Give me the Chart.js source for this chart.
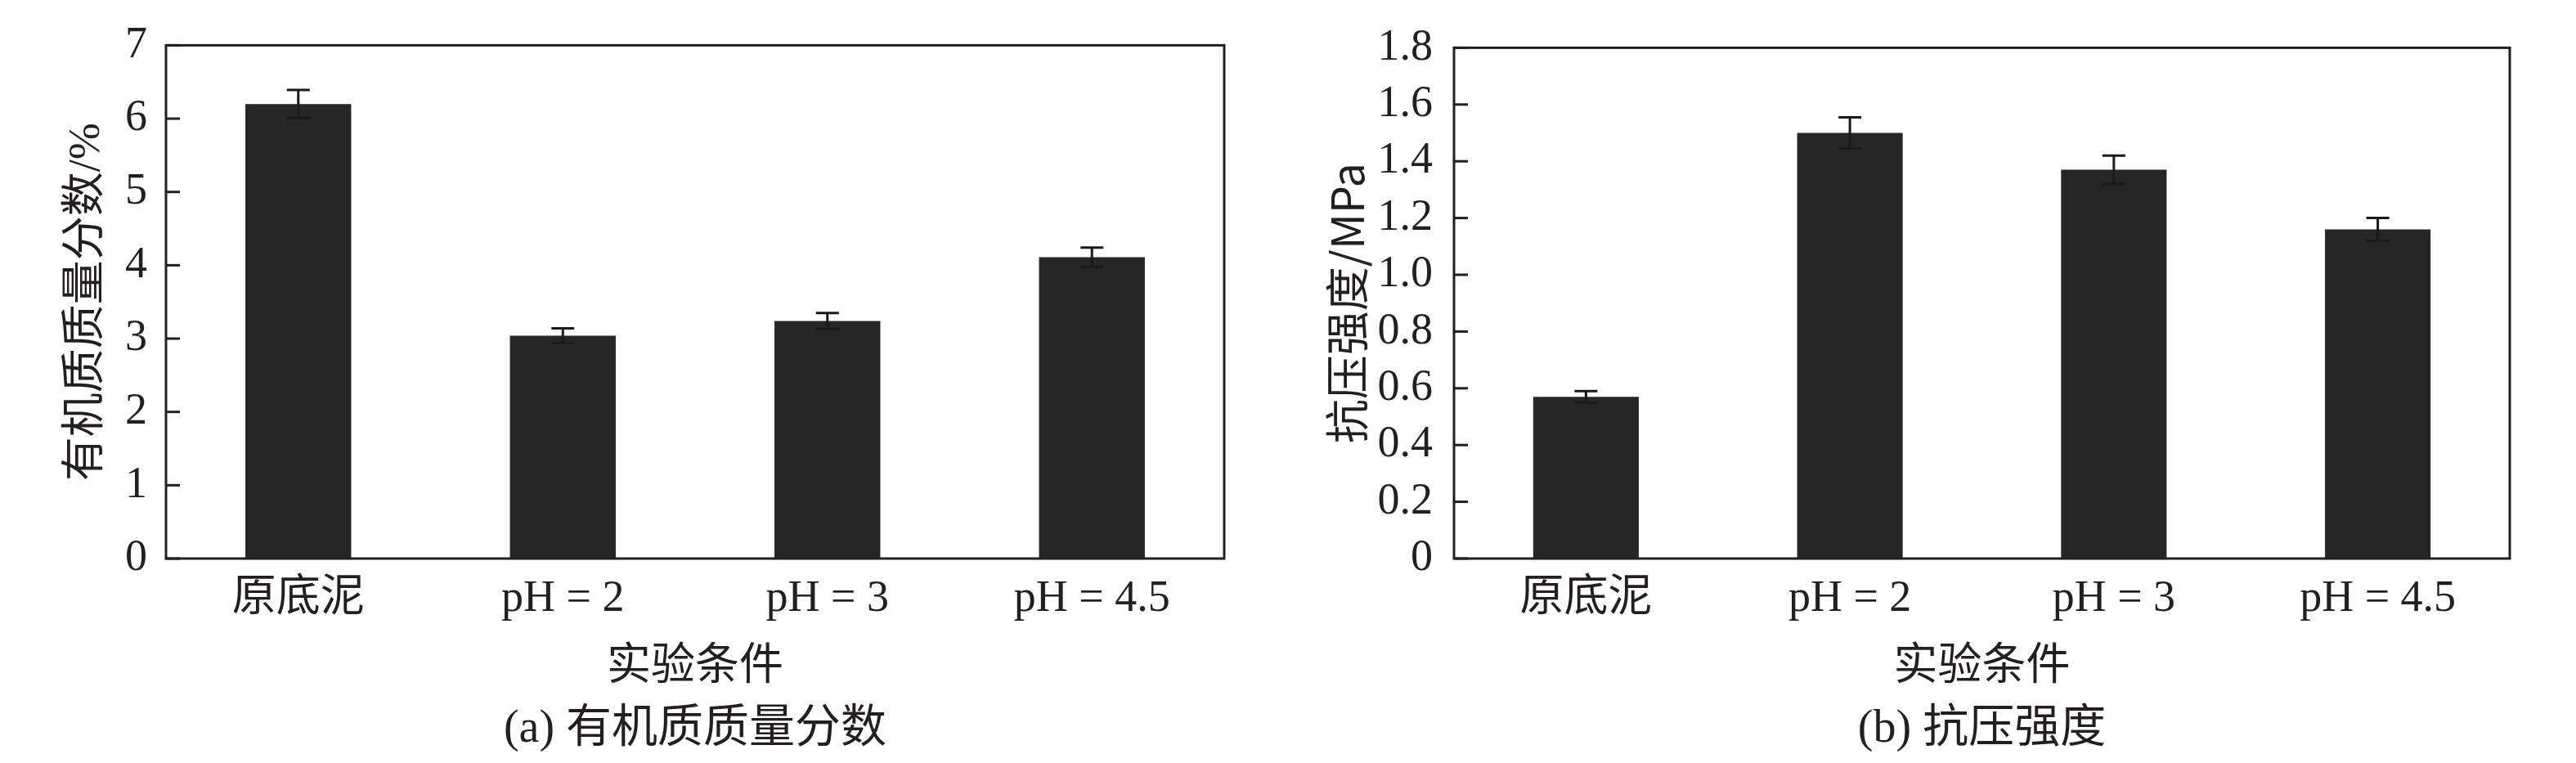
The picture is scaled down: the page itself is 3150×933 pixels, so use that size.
<!DOCTYPE html>
<html>
<head>
<meta charset="utf-8">
<script src="https://cdn.jsdelivr.net/npm/chart.js@4.4.1/dist/chart.umd.min.js"></script>
<style>
  html, body { margin: 0; padding: 0; background: #ffffff; }
  body { width: 3150px; height: 933px; position: relative; overflow: hidden; }
  .panel { position: absolute; top: 0; width: 1575px; height: 933px; }
  #pa { left: 0; }
  #pb { left: 1575px; }
</style>
</head>
<body>
<div class="panel" id="pa"><canvas id="ca" width="1575" height="933"></canvas></div>
<div class="panel" id="pb"><canvas id="cb" width="1575" height="933"></canvas></div>
<script>
// ---- data ----
const categories = ['原底泥', 'pH = 2', 'pH = 3', 'pH = 4.5'];

const organicValues = [6.2, 3.04, 3.24, 4.11];
const organicErrors = [0.19, 0.10, 0.11, 0.13];
const organicTickValues = [0, 1, 2, 3, 4, 5, 6, 7];
const organicTickLabels = ['0', '1', '2', '3', '4', '5', '6', '7'];

const strengthValues = [0.57, 1.50, 1.37, 1.16];
const strengthErrors = [0.02, 0.055, 0.05, 0.04];
const strengthTickValues = [0, 0.2, 0.4, 0.6, 0.8, 1.0, 1.2, 1.4, 1.6, 1.8];
const strengthTickLabels = ['0', '0.2', '0.4', '0.6', '0.8', '1.0', '1.2', '1.4', '1.6', '1.8'];

const xTitle = '实验条件';
const yTitleA = '有机质质量分数/%';
const yTitleB = '抗压强度/MPa';
const captionA = '(a) 有机质质量分数';
const captionB = '(b) 抗压强度';

// ---- style ----
const INK = '#231f20';
const BAR = '#262626';
const SERIF = "'Liberation Serif', 'Noto Sans CJK SC', serif";

const framePlugin = {
  id: 'frameAndErrors',
  afterDatasetsDraw(chart, args, opts) {
    const ctx = chart.ctx;
    const a = chart.chartArea;
    const ys = chart.scales.y;
    const meta = chart.getDatasetMeta(0);
    const vals = chart.data.datasets[0].data;
    const errs = opts.errors;
    ctx.save();
    // error bars
    ctx.strokeStyle = '#1a1a1a';
    ctx.lineWidth = 3;
    meta.data.forEach((bar, i) => {
      const x = bar.x;
      const yt = ys.getPixelForValue(vals[i] + errs[i]);
      const yb = ys.getPixelForValue(vals[i] - errs[i]);
      ctx.beginPath();
      ctx.moveTo(x, yt); ctx.lineTo(x, yb);
      ctx.moveTo(x - 14, yt); ctx.lineTo(x + 14, yt);
      ctx.moveTo(x - 14, yb); ctx.lineTo(x + 14, yb);
      ctx.stroke();
    });
    // inward ticks on the y axis
    ctx.strokeStyle = INK;
    ys.ticks.forEach(t => {
      const y = ys.getPixelForValue(t.value);
      ctx.beginPath();
      ctx.moveTo(a.left, y); ctx.lineTo(a.left + 17, y);
      ctx.stroke();
    });
    // frame
    ctx.strokeRect(a.left, a.top, a.right - a.left, a.bottom - a.top);
    ctx.restore();
  }
};

function makeChart(canvasId, values, errors, tickValues, tickLabels, yMax, yTitle, yTitleFamily, yTitlePad, tickPad, rightPad, caption) {
  return new Chart(document.getElementById(canvasId), {
    type: 'bar',
    data: {
      labels: categories,
      datasets: [{
        data: values,
        backgroundColor: BAR,
        borderWidth: 0,
        barPercentage: 0.4,
        categoryPercentage: 1.0
      }]
    },
    options: {
      responsive: false,
      animation: false,
      devicePixelRatio: 1,
      layout: { padding: { top: 47, right: rightPad, left: 0, bottom: 0 } },
      plugins: {
        legend: { display: false },
        tooltip: { enabled: false },
        title: {
          display: true,
          position: 'bottom',
          fullSize: false,
          text: caption,
          color: INK,
          font: { family: SERIF, size: 56, weight: 'normal', lineHeight: 1.2 },
          padding: { top: 0, bottom: 7.4 }
        },
        frameAndErrors: { errors: errors }
      },
      scales: {
        x: {
          grid: { display: false, drawTicks: false },
          border: { display: false },
          ticks: {
            color: INK,
            padding: 17,
            font: { family: SERIF, size: 54, lineHeight: 1.2 }
          },
          title: {
            display: true,
            text: xTitle,
            color: INK,
            font: { family: SERIF, size: 54, lineHeight: 1.2 },
            padding: { top: 0, bottom: 9 }
          },
          afterFit(scale) { scale.height = 858.4 - 683; }
        },
        y: {
          min: 0,
          max: yMax,
          grid: { display: false, drawTicks: false },
          border: { display: false },
          afterBuildTicks(scale) {
            scale.ticks = tickValues.map(v => ({ value: v }));
          },
          ticks: {
            color: INK,
            padding: tickPad,
            font: { family: SERIF, size: 54, lineHeight: 1.2 },
            callback(value, index) { return tickLabels[index]; }
          },
          title: {
            display: true,
            text: yTitle,
            color: INK,
            font: { family: yTitleFamily, size: 54, lineHeight: 1.2 },
            padding: { top: yTitlePad, bottom: 0 }
          },
          afterFit(scale) { scale.width = 203; }
        }
      }
    },
    plugins: [framePlugin]
  });
}

makeChart('ca', organicValues, organicErrors, organicTickValues, organicTickLabels, 7,
  yTitleA, SERIF, 74, 23, 78, captionA);
makeChart('cb', strengthValues, strengthErrors, strengthTickValues, strengthTickLabels, 1.8,
  yTitleB, "'Noto Sans CJK SC', 'Liberation Sans', sans-serif", 40, 26, 81, captionB);
</script>
</body>
</html>
